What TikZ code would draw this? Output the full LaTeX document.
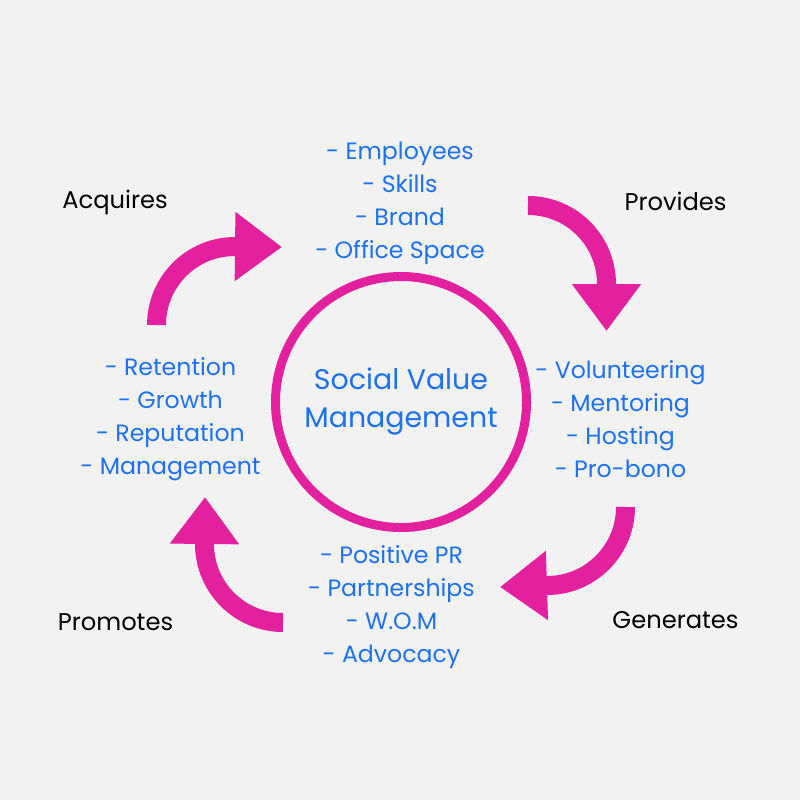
\documentclass[tikz,border=0pt]{standalone}
\usepackage{fontspec}
\setmainfont{Poppins}
\usetikzlibrary{arrows.meta, positioning}
\definecolor{svpink}{HTML}{E3219F}
\definecolor{svblue}{HTML}{1C72F2}
\definecolor{svback}{HTML}{F2F2F2}
\tikzset{
  itemlist/.style={align=center, text=svblue, font=\fontsize{16.8}{23.5}\selectfont, inner sep=0pt},
  verb/.style={text=black, font=\fontsize{17.2}{20}\selectfont, inner sep=0pt},
  cycarrow/.style={svpink, line width=13.5pt, -{Triangle[width=47pt, length=33.4pt]}}
}

\begin{document}
\begin{tikzpicture}[x=0.025cm, y=-0.025cm]
	\fill[svback] (0,0) rectangle (800,800);
	\useasboundingbox (0,0) rectangle (800,800);

	\node [circle, draw=svpink, line width=6.4pt, minimum size=251*0.025cm, align=center, text=svblue, font=\fontsize{20.2}{27}\selectfont] (svm) at (401,402) {Social Value\\Management};

	\node [itemlist] (top) at (400,203) {- Employees\\- Skills\\- Brand\\- Office Space};
	\node [itemlist] (right) at (620.5,419) {- Volunteering\\- Mentoring\\- Hosting\\- Pro-bono};
	\node [itemlist] (bottom) at (391.5,607) {- Positive PR\\- Partnerships\\- W.O.M\\- Advocacy};
	\node [itemlist] (left) at (170.5,419) {- Retention\\- Growth\\- Reputation\\- Management};

	\node [verb] (acq) at (115,202) {Acquires};
	\node [verb] (prov) at (675.5,201) {Provides};
	\node [verb] (gen) at (675.5,620) {Generates};
	\node [verb] (prom) at (115.5,622) {Promotes};

	% arrow ends
	\coordinate (acq-s) at (156.5,325);
	\coordinate (acq-e) at (282,247);
	\coordinate (prov-s) at (528,205.5);
	\coordinate (prov-e) at (606.5,331);
	\coordinate (gen-s) at (625.5,507);
	\coordinate (gen-e) at (500,587);
	\coordinate (prom-s) at (283,622.5);
	\coordinate (prom-e) at (205,497);

	\draw [cycarrow] (acq-s) arc [start angle=180, end angle=270, radius=78.5] -- (acq-e);
	\draw [cycarrow] (prov-s) arc [start angle=270, end angle=360, radius=78.5] -- (prov-e);
	\draw [cycarrow] (gen-s) arc [start angle=0, end angle=90, radius=78.5] -- (gen-e);
	\draw [cycarrow] (prom-s) arc [start angle=90, end angle=180, radius=78.5] -- (prom-e);
\end{tikzpicture}
\end{document}
